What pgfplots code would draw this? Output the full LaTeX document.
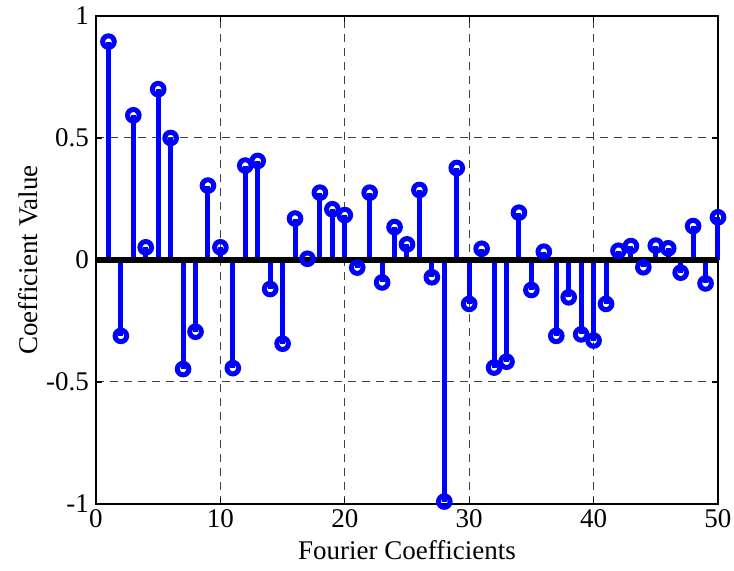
\documentclass[border=0pt]{standalone}
\usepackage{pgfplots}
\pgfplotsset{compat=1.18}
\usepackage{pgfplotstable}
\usepackage{fontspec}
\setmainfont{Liberation Serif}

% Fourier coefficient values, index k = 1..50
\pgfplotstableread{
k  c
1   0.895
2  -0.311
3   0.593
4   0.052
5   0.700
6   0.500
7  -0.447
8  -0.294
9   0.305
10  0.052
11 -0.443
12  0.387
13  0.406
14 -0.119
15 -0.343
16  0.170
17  0.005
18  0.276
19  0.208
20  0.184
21 -0.031
22  0.276
23 -0.092
24  0.135
25  0.064
26  0.287
27 -0.071
28 -0.990
29  0.377
30 -0.180
31  0.046
32 -0.441
33 -0.417
34  0.194
35 -0.123
36  0.034
37 -0.311
38 -0.153
39 -0.305
40 -0.330
41 -0.180
42  0.038
43  0.057
44 -0.030
45  0.059
46  0.048
47 -0.052
48  0.139
49 -0.096
50  0.175
}\coeffs

\begin{document}
\begin{tikzpicture}
\begin{axis}[
  width=311pt, height=244pt, scale only axis,
  xmin=0, xmax=50, ymin=-1, ymax=1,
  xtick={0,10,...,50},
  ytick={-1,-0.5,0,0.5,1},
  yticklabels={-1,-0.5,0,0.5,1},
  tick align=inside,
  major tick length=3pt,
  tick style={black, line width=0.6pt},
  axis line style={black, line width=0.6pt},
  grid=major,
  major grid style={black!75, line width=0.5pt, dash pattern=on 4pt off 3pt},
  /pgf/number format/assume math mode=true,
  tick label style={font=\fontsize{13.5}{15}\selectfont},
  label style={font=\fontsize{13.5}{15}\selectfont},
  xlabel={Fourier Coefficients},
  ylabel={Coefficient Value},
  xlabel style={at={(axis description cs:0.5,0)}, anchor=center, yshift=-23pt},
  ylabel style={at={(axis description cs:-0.1093,0.5)}, anchor=center},
  xticklabel style={yshift=1pt},
  clip=false,
]
% stems
\addplot[ycomb, color=blue, line width=2.5pt, no markers] table[x=k, y=c] {\coeffs};
% baseline
\addplot[black, line width=3pt, no markers] coordinates {(0,0) (50,0)};
% open circle heads
\addplot[only marks, color=blue, mark=o, mark size=2.9pt,
  mark options={line width=2.5pt, fill=none}] table[x=k, y=c] {\coeffs};
\end{axis}
\pgfresetboundingbox
\path[use as bounding box]
  ([shift={(-48pt,-33.5pt)}]current axis.south west) rectangle
  ([shift={(8pt,8pt)}]current axis.north east);
\end{tikzpicture}
\end{document}
